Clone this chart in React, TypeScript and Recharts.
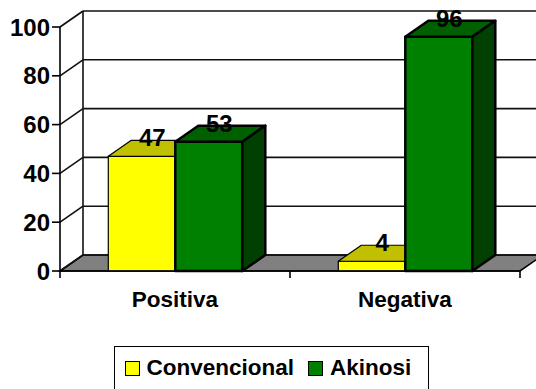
import { BarChart, Bar, XAxis, YAxis, CartesianGrid, LabelList } from "recharts";

const categories = ["Positiva", "Negativa"];
const convencional = [47, 4];
const akinosi = [53, 96];
const yTicks = [0, 20, 40, 60, 80, 100];

const series = [
  { key: "conv", name: "Convencional", front: "#ffff00", top: "#c0c000", side: "#808000", stroke: 1.2 },
  { key: "aki", name: "Akinosi", front: "#008000", top: "#006000", side: "#004000", stroke: 2.5 },
];

const data = categories.map((name, i) => ({ name, conv: convencional[i], aki: akinosi[i] }));

// 3D depth offset
const DX = 23;
const DY = -16;
const FONT = "'Liberation Sans', Arial, sans-serif";

const make3DBar = (s: (typeof series)[number]) => (props: any) => {
  const { x, y, width, height } = props;
  if (width == null || height == null) return <g />;
  const bottom = y + height;
  return (
    <g stroke="#000" strokeWidth={s.stroke} strokeLinejoin="round">
      <rect x={x} y={y} width={width} height={height} fill={s.front} />
      <polygon
        points={`${x},${y} ${x + DX},${y + DY} ${x + width + DX},${y + DY} ${x + width},${y}`}
        fill={s.top}
      />
      <polygon
        points={`${x + width},${y} ${x + width + DX},${y + DY} ${x + width + DX},${bottom + DY} ${x + width},${bottom}`}
        fill={s.side}
      />
    </g>
  );
};

const WallLine = (props: any) => {
  const { x1, y1, x2, y, height, index } = props;
  const isFloor = y != null && height != null && Math.abs(y1 - (y + height)) < 1;
  return (
    <g key={`wall-${index}`}>
      {isFloor && (
        <>
          <polygon
            points={`${x1},${y1} ${x2},${y1} ${x2 + DX},${y1 + DY} ${x1 + DX},${y1 + DY}`}
            fill="#808080"
            stroke="#000"
            strokeWidth={1.6}
          />
          <line x1={x1 + DX} y1={y1 + DY} x2={x1 + DX} y2={y + DY} stroke="#111" strokeWidth={1.6} />
        </>
      )}
      <line x1={x1} y1={y1} x2={x1 + DX} y2={y1 + DY} stroke="#111" strokeWidth={1.6} />
      <line x1={x1 + DX} y1={y1 + DY} x2={x2 + DX} y2={y1 + DY} stroke="#111" strokeWidth={1.6} />
    </g>
  );
};

const CategoryTick = (props: any) => {
  const { x, y, payload } = props;
  const half = payload?.offset ?? 115;
  return (
    <g>
      <line x1={x - half} y1={y} x2={x - half} y2={y + 7} stroke="#000" strokeWidth={1.6} />
      {payload.index === categories.length - 1 && (
        <line x1={x + half} y1={y} x2={x + half} y2={y + 7} stroke="#000" strokeWidth={1.6} />
      )}
      <text x={x} y={y + 36} textAnchor="middle" fontFamily={FONT} fontWeight="bold" fontSize={22.5} fill="#000">
        {payload.value}
      </text>
    </g>
  );
};

const ValueLabel = (props: any) => {
  const { x, y, width, value } = props;
  return (
    <text
      x={x + width / 2 + DX / 2 - 1}
      y={y - 10}
      textAnchor="middle"
      fontFamily={FONT}
      fontWeight="bold"
      fontSize={24}
      fill="#000"
    >
      {value}
    </text>
  );
};

export default function App() {
  return (
    <div style={{ position: "relative", width: 536, height: 389, background: "#fff", overflow: "hidden" }}>
      <style>{"body{margin:0}"}</style>
      <BarChart
        width={536}
        height={389}
        data={data}
        margin={{ top: 27, right: 16, left: 0, bottom: 88 }}
        barGap={0}
        barCategoryGap="21%"
      >
        <CartesianGrid vertical={false} horizontal={(p: any) => <WallLine {...p} />} />
        <YAxis
          domain={[0, 100]}
          ticks={yTicks}
          width={60}
          tickSize={8}
          tickMargin={2}
          axisLine={{ stroke: "#000", strokeWidth: 1.6 }}
          tickLine={{ stroke: "#000", strokeWidth: 1.6 }}
          tick={{ fill: "#000", fontFamily: FONT, fontWeight: "bold", fontSize: 24 }}
          interval={0}
        />
        <XAxis
          dataKey="name"
          height={30}
          tickSize={0}
          tickMargin={0}
          tickLine={false}
          axisLine={{ stroke: "#000", strokeWidth: 1.6 }}
          tick={<CategoryTick />}
          interval={0}
        />
        {series.map((s) => (
          <Bar key={s.key} dataKey={s.key} name={s.name} fill={s.front} shape={make3DBar(s)} isAnimationActive={false}>
            <LabelList dataKey={s.key} content={<ValueLabel />} />
          </Bar>
        ))}
      </BarChart>
      <div
        style={{
          position: "absolute",
          left: 114,
          top: 346,
          width: 315,
          height: 44,
          border: "1.5px solid #000",
          display: "flex",
          alignItems: "center",
          paddingLeft: 9.5,
          boxSizing: "border-box",
          fontFamily: FONT,
          fontWeight: "bold",
          fontSize: 22.5,
          color: "#000",
        }}
      >
        {series.map((s, i) => (
          <div key={s.key} style={{ display: "flex", alignItems: "center", marginLeft: i === 0 ? 0 : 14 }}>
            <span
              style={{
                display: "inline-block",
                width: 13,
                height: 13,
                background: s.front,
                border: "1.5px solid #000",
                marginRight: 7,
              }}
            />
            <span>{s.name}</span>
          </div>
        ))}
      </div>
    </div>
  );
}
